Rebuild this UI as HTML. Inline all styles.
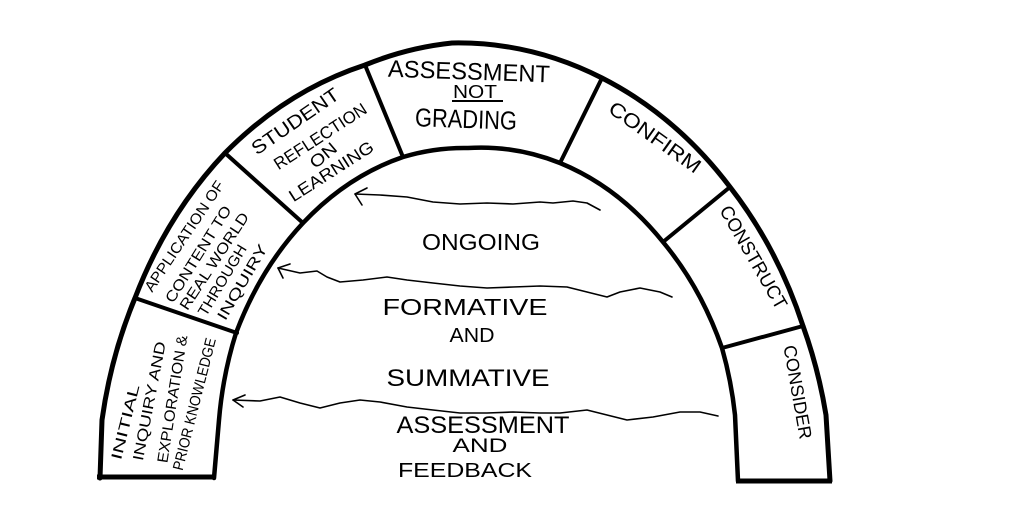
<!DOCTYPE html>
<html>
<head>
<meta charset="utf-8">
<style>
  html,body{margin:0;padding:0;background:#fff;}
  svg{display:block;}
  text{font-family:"Liberation Sans",sans-serif;fill:#000;}
</style>
</head>
<body>
<svg width="1024" height="518" viewBox="0 0 1024 518" xmlns="http://www.w3.org/2000/svg">
  <rect width="1024" height="518" fill="#fff"/>

  <!-- Outer arch -->
  <path d="M 100 478 L 102 420 A 366 436 0 0 1 135 298 A 366 436 0 0 1 225 153 A 366 436 0 0 1 365 65 A 366 436 0 0 1 452 43 A 366 436 0 0 1 602 78 A 366 436 0 0 1 730 187 A 366 436 0 0 1 803 326 A 366 436 0 0 1 826 415 L 830 481"
        fill="none" stroke="#000" stroke-width="5" stroke-linejoin="round" stroke-linecap="round"/>
  <!-- Inner arch -->
  <path d="M 214 478 L 219 420 A 262 330 0 0 1 236 333 A 262 330 0 0 1 303 223 A 262 330 0 0 1 403 157 A 262 330 0 0 1 468 148 A 262 330 0 0 1 560 163 A 262 330 0 0 1 663 242 A 262 330 0 0 1 722 348 A 262 330 0 0 1 735 415 L 738 481"
        fill="none" stroke="#000" stroke-width="4.5" stroke-linejoin="round" stroke-linecap="round"/>
  <!-- Bottom lines -->
  <line x1="97" y1="477" x2="216" y2="477" stroke="#000" stroke-width="5"/>
  <line x1="736" y1="481" x2="832" y2="481" stroke="#000" stroke-width="5"/>

  <!-- Dividers -->
  <g stroke="#000" stroke-width="4" stroke-linecap="round">
    <line x1="135" y1="298" x2="237" y2="333"/>
    <line x1="225" y1="153" x2="303" y2="223"/>
    <line x1="365" y1="65" x2="403" y2="157"/>
    <line x1="602" y1="78" x2="560" y2="163"/>
    <line x1="730" y1="187" x2="663" y2="242"/>
    <line x1="803" y1="326" x2="722" y2="348"/>
  </g>

  <!-- Wavy arrows -->
  <g fill="none" stroke="#000" stroke-width="1.6" stroke-linejoin="round" stroke-linecap="round">
    <polyline points="355,194 380,195 407,197 433,202 460,204 487,203 513,204 540,202 553,203 573,201 587,203 600,210"/>
    <polyline points="367,188 355,194 362,205"/>

    <polyline points="278,268 300,273 317,271 327,277 340,282 363,280 387,277 407,280 433,283 460,286 487,288 513,287 540,286 567,287 587,292 607,297 620,292 640,288 660,292 672,297"/>
    <polyline points="290,264 278,268 283,278"/>

    <polyline points="233,400 260,401 280,397 300,403 320,408 340,403 360,400 380,402 407,407 433,410 460,413 487,413 513,412 540,413 560,413 587,410 607,415 627,420 653,417 680,412 700,412 718,416"/>
    <polyline points="245,395 233,400 243,407"/>
  </g>

  <!-- Top segment -->
  <text transform="translate(469,71) rotate(2)" y="8.5" font-size="24" text-anchor="middle" textLength="162" lengthAdjust="spacingAndGlyphs">ASSESSMENT</text>
  <text x="475" y="98" font-size="18" text-anchor="middle" textLength="44" lengthAdjust="spacingAndGlyphs">NOT</text>
  <line x1="452" y1="101" x2="503" y2="101" stroke="#000" stroke-width="2"/>
  <text transform="translate(466,119) rotate(2)" y="9" font-size="26" text-anchor="middle" textLength="102" lengthAdjust="spacingAndGlyphs">GRADING</text>

  <!-- Right segments -->
  <text transform="translate(655,137) rotate(35.5)" y="7" font-size="20" text-anchor="middle" textLength="108" lengthAdjust="spacingAndGlyphs">CONFIRM</text>
  <text transform="translate(754,257) rotate(60)" y="7" font-size="19" text-anchor="middle" textLength="116" lengthAdjust="spacingAndGlyphs">CONSTRUCT</text>
  <text transform="translate(798,392) rotate(80)" y="6.5" font-size="18" text-anchor="middle" textLength="95" lengthAdjust="spacingAndGlyphs">CONSIDER</text>

  <!-- Student reflection -->
  <text transform="translate(295,121) rotate(-34.6)" y="6.8" font-size="19" text-anchor="middle" textLength="102" lengthAdjust="spacingAndGlyphs">STUDENT</text>
  <text transform="translate(320,136) rotate(-33)" y="6.2" font-size="17" text-anchor="middle" textLength="107" lengthAdjust="spacingAndGlyphs">REFLECTION</text>
  <text transform="translate(323,155) rotate(-40)" y="6.2" font-size="17" text-anchor="middle" textLength="30" lengthAdjust="spacingAndGlyphs">ON</text>
  <text transform="translate(331,171) rotate(-32.6)" y="6.2" font-size="17" text-anchor="middle" textLength="97" lengthAdjust="spacingAndGlyphs">LEARNING</text>

  <!-- Application -->
  <text transform="translate(184,236) rotate(-56)" y="5.4" font-size="15" text-anchor="middle" textLength="130" lengthAdjust="spacingAndGlyphs">APPLICATION OF</text>
  <text transform="translate(198,254) rotate(-58)" y="5.4" font-size="15" text-anchor="middle" textLength="111" lengthAdjust="spacingAndGlyphs">CONTENT TO</text>
  <text transform="translate(214,261) rotate(-56.6)" y="5.4" font-size="15" text-anchor="middle" textLength="113" lengthAdjust="spacingAndGlyphs">REAL WORLD</text>
  <text transform="translate(222,280) rotate(-59)" y="5.4" font-size="15" text-anchor="middle" textLength="80" lengthAdjust="spacingAndGlyphs">THROUGH</text>
  <text transform="translate(242,282) rotate(-59.7)" y="5.4" font-size="15" text-anchor="middle" textLength="85" lengthAdjust="spacingAndGlyphs">INQUIRY</text>

  <!-- Initial inquiry -->
  <text transform="translate(125,422) rotate(-76)" y="5.4" font-size="15" text-anchor="middle" textLength="77" lengthAdjust="spacingAndGlyphs">INITIAL</text>
  <text transform="translate(149,401) rotate(-79)" y="5.4" font-size="15" text-anchor="middle" textLength="121" lengthAdjust="spacingAndGlyphs">INQUIRY  AND</text>
  <text transform="translate(172,399) rotate(-81)" y="5.4" font-size="15" text-anchor="middle" textLength="129" lengthAdjust="spacingAndGlyphs">EXPLORATION &amp;</text>
  <text transform="translate(194,404) rotate(-75.7)" y="5.4" font-size="15" text-anchor="middle" textLength="136" lengthAdjust="spacingAndGlyphs">PRIOR KNOWLEDGE</text>

  <!-- Center text -->
  <text x="481" y="250" font-size="23" text-anchor="middle" textLength="118" lengthAdjust="spacingAndGlyphs">ONGOING</text>
  <text x="465" y="315" font-size="23" text-anchor="middle" textLength="165" lengthAdjust="spacingAndGlyphs">FORMATIVE</text>
  <text x="472" y="342" font-size="20" text-anchor="middle" textLength="45" lengthAdjust="spacingAndGlyphs">AND</text>
  <text x="468" y="386" font-size="24" text-anchor="middle" textLength="163" lengthAdjust="spacingAndGlyphs">SUMMATIVE</text>
  <text x="483" y="433" font-size="24" text-anchor="middle" textLength="173" lengthAdjust="spacingAndGlyphs">ASSESSMENT</text>
  <text x="480" y="452" font-size="19" text-anchor="middle" textLength="55" lengthAdjust="spacingAndGlyphs">AND</text>
  <text x="465" y="477" font-size="20" text-anchor="middle" textLength="134" lengthAdjust="spacingAndGlyphs">FEEDBACK</text>
</svg>
</body>
</html>
